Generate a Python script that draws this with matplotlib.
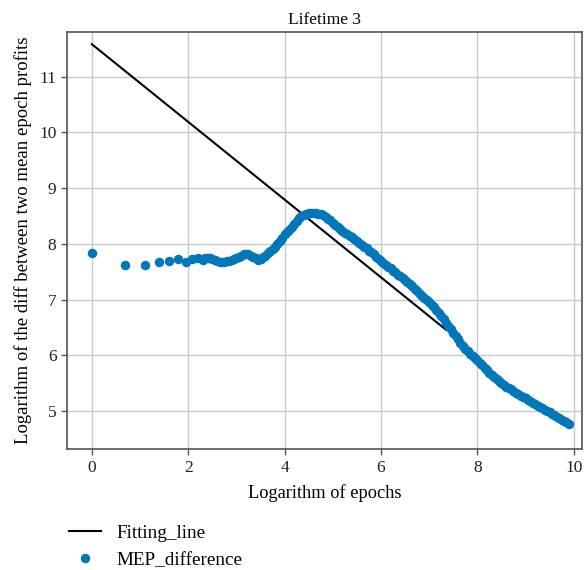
import matplotlib
matplotlib.use("Agg")
import matplotlib.pyplot as plt

plt.rcParams["font.family"] = ["Liberation Serif", "DejaVu Serif"]

# Fitting line (log epochs -> fitted log diff)
fit_x = [0.0, 7.35]
fit_y = [11.58, 6.46]

# MEP difference points: log of epochs vs log of diff
log_epochs = [
    0.0, 0.693, 1.099, 1.386, 1.609, 1.792, 1.946, 2.079, 2.197,
    2.30, 2.35, 2.40, 2.45, 2.50, 2.55, 2.60, 2.65, 2.70, 2.75,
    2.80, 2.85, 2.90, 2.95, 3.00, 3.05, 3.10, 3.15, 3.20, 3.25,
    3.30, 3.35, 3.40, 3.45, 3.50, 3.55, 3.60, 3.65, 3.70, 3.75,
    3.80, 3.85, 3.90, 3.95, 4.00, 4.05, 4.10, 4.15, 4.20, 4.25,
    4.30, 4.35, 4.40, 4.45, 4.50, 4.55, 4.60, 4.65, 4.70, 4.75,
    4.80, 4.85, 4.90, 4.95, 5.00, 5.05, 5.10, 5.15, 5.20, 5.25,
    5.30, 5.35, 5.40, 5.45, 5.50, 5.55, 5.60, 5.65, 5.70, 5.75,
    5.80, 5.85, 5.90, 5.95, 6.00, 6.05, 6.10, 6.15, 6.20, 6.25,
    6.30, 6.35, 6.40, 6.45, 6.50, 6.55, 6.60, 6.65, 6.70, 6.75,
    6.80, 6.85, 6.90, 6.95, 7.00, 7.05, 7.10, 7.15, 7.20, 7.25,
    7.30, 7.35, 7.40, 7.45, 7.50, 7.55, 7.60, 7.65, 7.70, 7.75,
    7.80, 7.85, 7.90, 7.95, 8.00, 8.05, 8.10, 8.15, 8.20, 8.25,
    8.30, 8.35, 8.40, 8.45, 8.50, 8.55, 8.60, 8.65, 8.70, 8.75,
    8.80, 8.85, 8.90, 8.95, 9.00, 9.05, 9.10, 9.15, 9.20, 9.25,
    9.30, 9.35, 9.40, 9.45, 9.50, 9.55, 9.60, 9.65, 9.70, 9.75,
    9.80, 9.85, 9.90,
]
mep_diff = [
    7.84, 7.62, 7.62, 7.67, 7.69, 7.73, 7.67, 7.73, 7.74,
    7.72, 7.74, 7.75, 7.74, 7.73, 7.72, 7.70, 7.68, 7.67, 7.68,
    7.69, 7.70, 7.72, 7.73, 7.75, 7.77, 7.79, 7.81, 7.82, 7.81,
    7.79, 7.77, 7.74, 7.72, 7.73, 7.76, 7.79, 7.83, 7.87, 7.91,
    7.95, 8.00, 8.05, 8.11, 8.17, 8.21, 8.25, 8.30, 8.35, 8.41,
    8.46, 8.50, 8.52, 8.54, 8.55, 8.56, 8.56, 8.55, 8.54, 8.53,
    8.51, 8.48, 8.45, 8.42, 8.38, 8.34, 8.30, 8.26, 8.23, 8.20,
    8.17, 8.15, 8.13, 8.09, 8.05, 8.01, 7.98, 7.95, 7.92, 7.88,
    7.85, 7.81, 7.77, 7.73, 7.70, 7.66, 7.63, 7.59, 7.56, 7.52,
    7.49, 7.45, 7.42, 7.38, 7.35, 7.31, 7.28, 7.24, 7.20, 7.15,
    7.11, 7.07, 7.03, 6.99, 6.95, 6.90, 6.86, 6.81, 6.76, 6.70,
    6.65, 6.59, 6.53, 6.47, 6.41, 6.35, 6.29, 6.23, 6.17, 6.12,
    6.08, 6.03, 5.99, 5.95, 5.91, 5.87, 5.83, 5.78, 5.74, 5.69,
    5.65, 5.61, 5.58, 5.54, 5.51, 5.47, 5.44, 5.41, 5.39, 5.36,
    5.33, 5.30, 5.28, 5.25, 5.23, 5.20, 5.18, 5.15, 5.13, 5.10,
    5.08, 5.05, 5.03, 5.00, 4.98, 4.95, 4.93, 4.90, 4.87, 4.85,
    4.82, 4.80, 4.78,
]

DOT_COLOR = "#0077b8"
SPINE_COLOR = "#555555"

fig = plt.figure(figsize=(5.86, 5.70), dpi=100)
ax = fig.add_axes([0.114, 0.212, 0.879, 0.732])

ax.plot(fit_x, fit_y, color="black", linewidth=1.5, label="Fitting_line", zorder=2)
ax.plot(log_epochs, mep_diff, linestyle="none", marker="o", markersize=5.8,
        color=DOT_COLOR, label="MEP_difference", zorder=3)

ax.set_xlim(-0.52, 10.17)
ax.set_ylim(4.32, 11.8)
ax.set_xticks([0, 2, 4, 6, 8, 10])
ax.set_yticks([5, 6, 7, 8, 9, 10, 11])
ax.grid(True, color="#c8c8c8", linewidth=1.0)
ax.set_axisbelow(True)

for spine in ax.spines.values():
    spine.set_color(SPINE_COLOR)
    spine.set_linewidth(1.2)
ax.tick_params(direction="out", length=4, width=1, color=SPINE_COLOR,
               labelsize=12.5, labelcolor="#222222")

ax.set_title("Lifetime 3", fontsize=12.5, pad=6)
ax.set_xlabel("Logarithm of epochs", fontsize=13.2, labelpad=6)
ax.set_ylabel("Logarithm of the diff between two mean epoch profits",
              fontsize=13.5, labelpad=5)

fig.legend(loc="upper left", bbox_to_anchor=(0.105, 0.0935),
           frameon=False, fontsize=13.8, handlelength=1.67,
           handletextpad=0.8, borderaxespad=0)

fig.savefig("out.png", dpi=100)
